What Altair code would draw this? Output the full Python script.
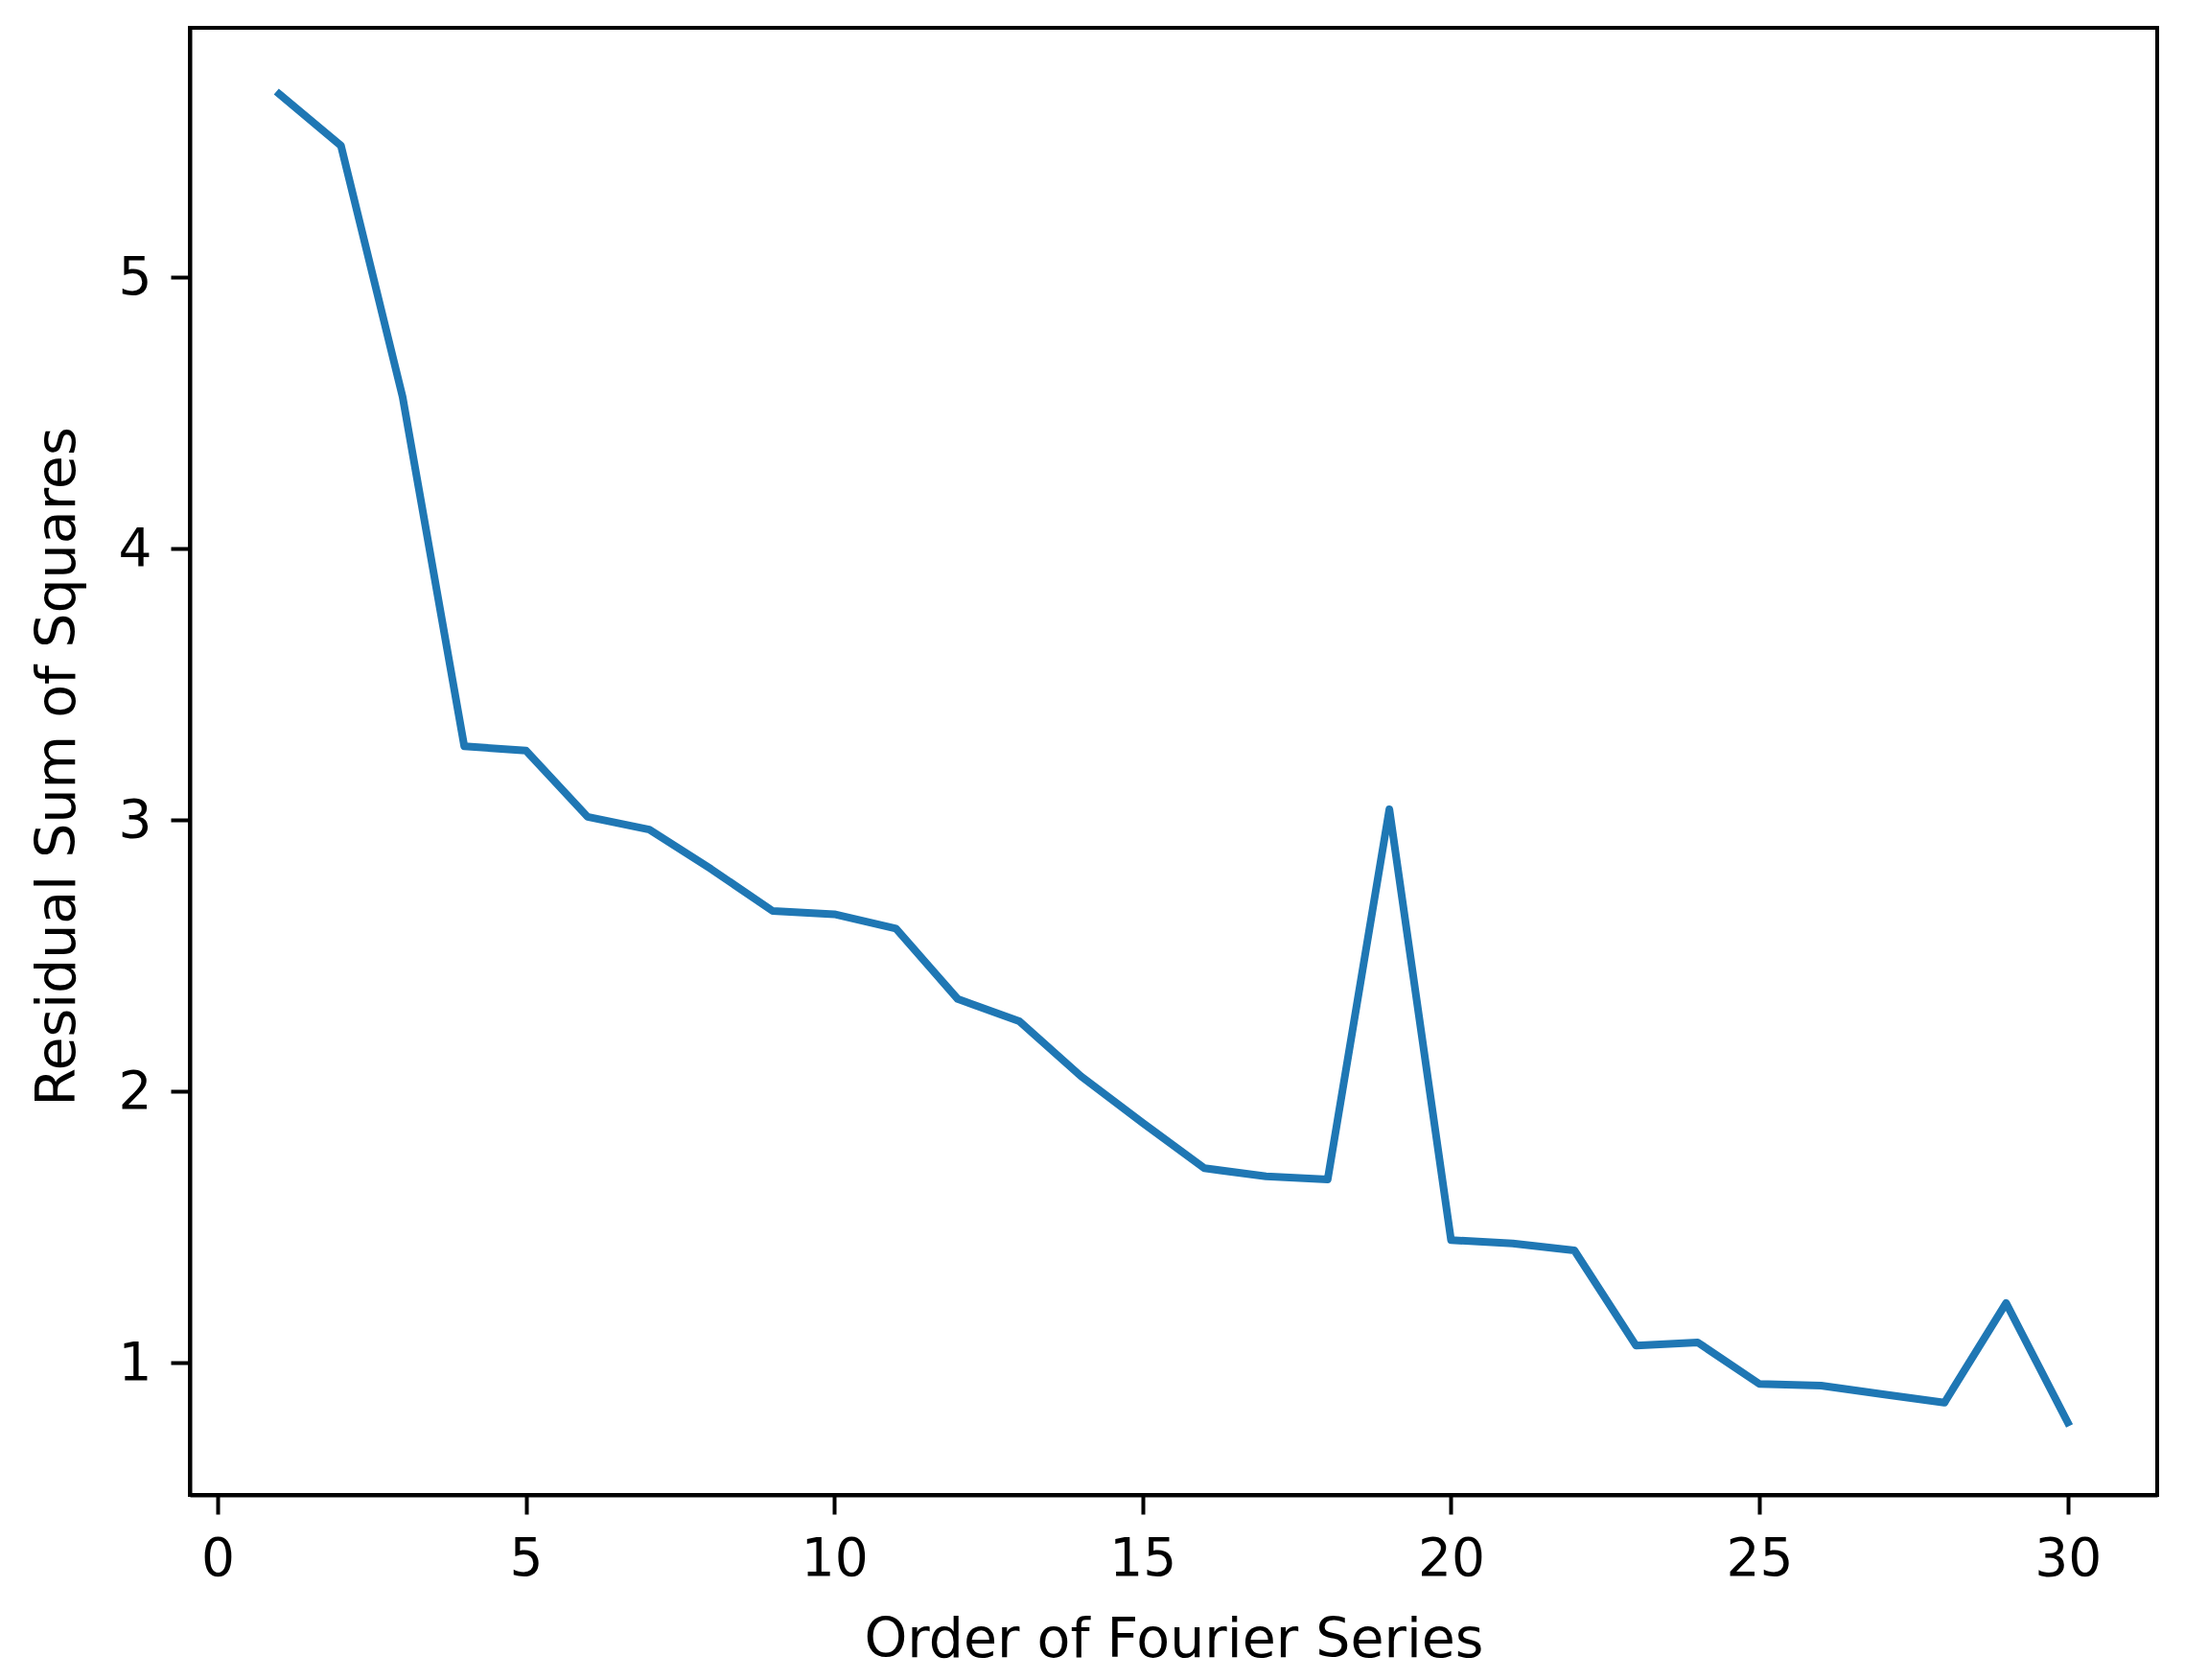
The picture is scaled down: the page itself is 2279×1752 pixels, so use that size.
import altair as alt
import pandas as pd

orders = list(range(1, 31))
rss = [5.676, 5.486, 4.56, 3.272, 3.256, 3.012, 2.965, 2.82, 2.665, 2.653,
       2.60, 2.341, 2.259, 2.056, 1.884, 1.717, 1.687, 1.676, 3.04, 1.452,
       1.44, 1.414, 1.063, 1.075, 0.922, 0.916, 0.884, 0.853, 1.22, 0.78]

x_ticks = [0, 5, 10, 15, 20, 25, 30]
y_ticks = [1, 2, 3, 4, 5]

df = pd.DataFrame({"order": orders, "rss": rss})

FONT = "DejaVu Sans"
FS = 55

chart = alt.Chart(df).mark_line(
    color="#1f77b4", strokeWidth=8, strokeCap="square", strokeJoin="round", clip=True
).encode(
    x=alt.X("order:Q",
            scale=alt.Scale(domain=[-0.45, 31.45], nice=False, zero=False),
            axis=alt.Axis(values=x_ticks, title="Order of Fourier Series",
                          format="d", grid=False,
                          titleX=1026, titleY=168, titleBaseline="alphabetic",
                          titleAlign="center")),
    y=alt.Y("rss:Q",
            scale=alt.Scale(domain=[0.513, 5.92], nice=False, zero=False),
            axis=alt.Axis(values=y_ticks, title="Residual Sum of Squares",
                          format="d", grid=False,
                          titleX=-138, titleY=770, titleAngle=-90,
                          titleBaseline="middle", titleAlign="center")),
).properties(
    width=2052, height=1530,
    autosize=alt.AutoSizeParams(type="none"),
    padding={"left": 190, "top": 21, "right": 20, "bottom": 190},
).configure_view(
    stroke="black", strokeWidth=4
).configure_axis(
    domainColor="black", domainWidth=4,
    tickColor="black", tickWidth=4, tickSize=20,
    labelFont=FONT, labelFontSize=FS, labelColor="black", labelPadding=20,
    titleFont=FONT, titleFontSize=57, titleColor="black", titleFontWeight="normal",
    labelFlush=False,
)

chart.save("out.html", embed_options={"renderer": "svg", "actions": False})
